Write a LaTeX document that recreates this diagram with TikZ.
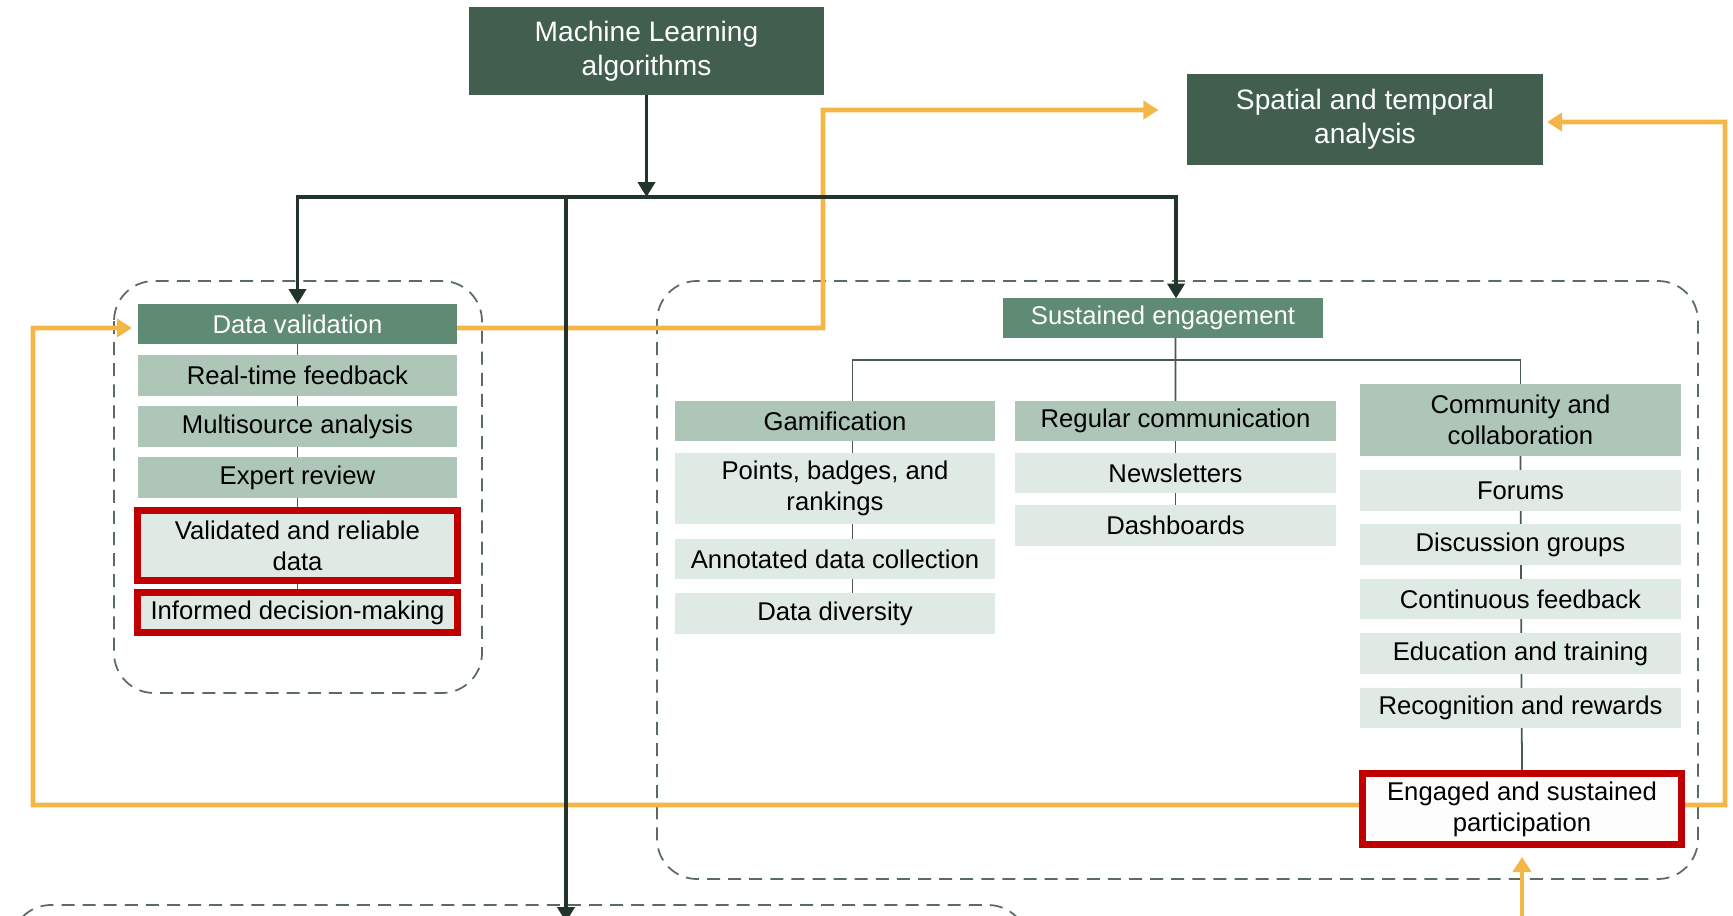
\documentclass[tikz,border=0pt]{standalone}
\usepackage{fontspec}
\setmainfont{Liberation Sans}
\usepackage{xcolor}
\usetikzlibrary{arrows.meta,positioning,backgrounds}
\definecolor{topgreen}{HTML}{415E4E}
\definecolor{headgreen}{HTML}{5F8A73}
\definecolor{midgreen}{HTML}{ADC6B7}
\definecolor{palegreen}{HTML}{E0EAE4}
\definecolor{resultred}{HTML}{C00000}
\definecolor{feedorange}{HTML}{F4B646}
\definecolor{darkline}{HTML}{23342B}
\definecolor{linkgray}{HTML}{4A5A52}
\definecolor{dashgray}{HTML}{5A6B62}

\begin{document}
\begin{tikzpicture}[x=0.01cm, y=-0.01cm,
  cell/.style={inner sep=0pt, outer sep=0pt, align=center, minimum height=0.40cm,
    font=\fontsize{7.3}{8.8}\selectfont},
  topbox/.style={cell, fill=topgreen, text=white, font=\fontsize{8}{9.7}\selectfont},
  head/.style={cell, fill=headgreen, text=white},
  item/.style={cell, fill=midgreen},
  sub/.style={cell, fill=palegreen},
  result/.style={cell, fill=palegreen, draw=resultred, line width=2pt},
  tall/.style={minimum height=0.71cm},
  lcol/.style={minimum width=3.19cm},
  gcol/.style={minimum width=3.19cm},
  rcol/.style={minimum width=3.21cm},
  ccol/.style={minimum width=3.21cm},
  link/.style={draw=linkgray, line width=0.5pt},
  bus/.style={draw=darkline, line width=1.1pt},
  busarr/.style={bus, -{Triangle[length=4.2pt,width=4.8pt]}},
  feed/.style={draw=feedorange, line width=1.4pt, -{Triangle[length=4.3pt,width=5.2pt]}},
  group/.style={draw=dashgray, dash pattern=on 3.7pt off 2.3pt, line width=0.5pt, rounded corners=0.4cm}
]
\useasboundingbox (0,0) rectangle (1733,916);

\node[topbox, minimum width=3.55cm, minimum height=0.88cm] (ml) at (646.5,51) {Machine Learning\\algorithms};
\node[topbox, minimum width=3.56cm, minimum height=0.91cm] (st) at (1365,119.5) {Spatial and temporal\\analysis};

\node[head, lcol] (dv)  at (297.5,324)   {Data validation};
\node[item, lcol] (rtf) at (297.5,375.5) {Real-time feedback};
\node[item, lcol] (msa) at (297.5,426.5) {Multisource analysis};
\node[item, lcol] (exr) at (297.5,477.5) {Expert review};
\node[result, lcol, minimum height=0.70cm] (vrd) at (297.5,545.5) {Validated and reliable\\data};
\node[result, lcol] (idm) at (297.5,612.5) {Informed decision-making};

\node[head, minimum width=3.20cm, minimum height=0.39cm] (se) at (1163,318) {Sustained engagement};

\node[item, gcol] (gam) at (835,421)         {Gamification};
\node[sub, gcol, tall] (pbr) at (835,488.5)  {Points, badges, and\\rankings};
\node[sub, gcol] (adc) at (835,559)          {Annotated data collection};
\node[sub, gcol] (ddv) at (835,613.5)        {Data diversity};

\node[item, rcol] (rgc) at (1175.5,421)  {Regular communication};
\node[sub, rcol] (nwl)  at (1175.5,473) {Newsletters};
\node[sub, rcol] (dsh)  at (1175.5,525.5) {Dashboards};

\node[item, ccol, tall] (cmc) at (1520.5,420) {Community and\\collaboration};
\node[sub, ccol] (frm) at (1520.5,490.5) {Forums};
\node[sub, ccol] (dsg) at (1520.5,544.5) {Discussion groups};
\node[sub, ccol] (cfb) at (1520.5,599)   {Continuous feedback};
\node[sub, ccol] (edt) at (1520.5,653.5) {Education and training};
\node[sub, ccol] (rcr) at (1520.5,708)   {Recognition and rewards};
\node[result, minimum width=3.19cm, tall, fill=white!92!palegreen] (esp) at (1522,809) {Engaged and sustained\\participation};

\coordinate (mlbus) at (646.5,197);
\coordinate (sbus) at (1176,360);
\coordinate (down) at (566,922);
\coordinate (turnA) at (823,110);
\coordinate (turnB) at (1725,122);
\coordinate (turnC) at (33,328);
\coordinate (below) at (1522,940);

\begin{scope}[on background layer]
\draw[group] (114,281) rectangle (482,693);
\draw[group] (657,281) rectangle (1698,879);
\draw[group] (11,905) rectangle (1028,1010);
\draw[link] (dv.south) -- (idm.north);
\draw[link] ([xshift=.125cm]se.south) -- (rgc.north);
\draw[link] ([xshift=.175cm]gam.north) |- (sbus) -| (cmc.north);
\draw[link] ([xshift=.175cm]gam.south) -- ([xshift=.175cm]ddv.north);
\draw[link] (rgc.south) -- (dsh.north);
\draw[link] (cmc.south) -- (esp.north);
\draw[feed, shorten >=0.285cm] ([yshift=-.04cm]dv.east) -| (turnA) -- ([yshift=.095cm]st.west);
\draw[feed] ([yshift=.04cm]esp.east) -| (turnB) -- ([xshift=.04cm,yshift=-.025cm]st.east);
\draw[feed, shorten >=0.06cm] ([yshift=.04cm]esp.west) -| (turnC) -- ([yshift=-.04cm]dv.west);
\draw[feed, shorten >=0.125cm] (below) -- (esp.south);
\draw[busarr] (ml.south) -- (mlbus);
\draw[busarr] (mlbus) -| (dv.north);
\draw[busarr] (mlbus) -| ([xshift=.13cm]se.north);
\draw[busarr] (mlbus -| down) -- (down);
\end{scope}
\end{tikzpicture}
\end{document}
